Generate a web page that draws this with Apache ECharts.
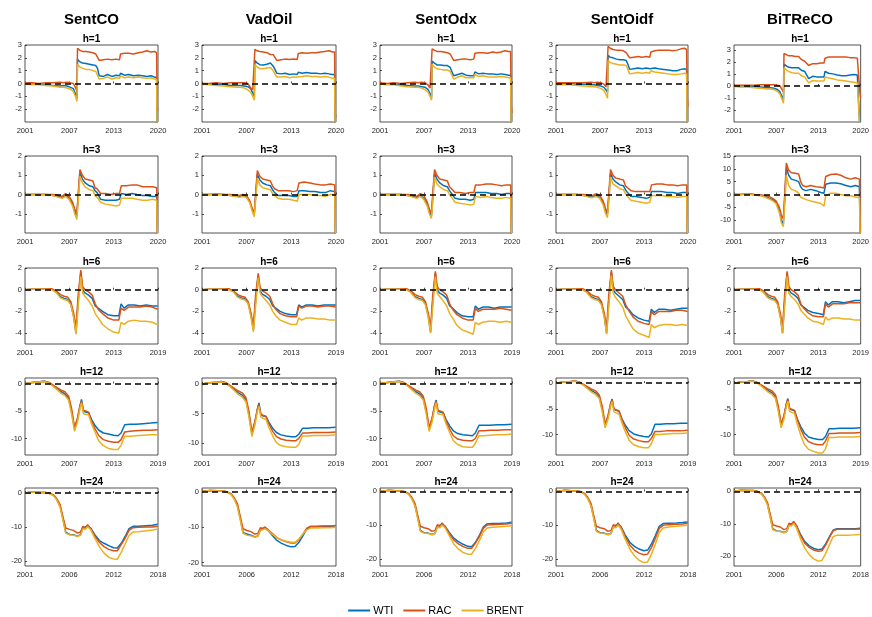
<!DOCTYPE html>
<html>
<head>
<meta charset="utf-8">
<script src="https://cdn.jsdelivr.net/npm/echarts@6/dist/echarts.min.js"></script>
<style>
html,body{margin:0;padding:0;background:#fff;}
#chart{width:872px;height:617px;}
</style>
</head>
<body>
<div id="chart"></div>
<script>
// ---- labels ----
const models = ['SentCO', 'VadOil', 'SentOdx', 'SentOidf', 'BiTReCO'];
const horizons = ['h=1', 'h=3', 'h=6', 'h=12', 'h=24'];
const seriesNames = ['WTI', 'RAC', 'BRENT'];

// ---- sample dates (decimal years) per horizon ----
const timeH1 = [2001,2002,2003,2004,2005,2006,2006.5,2007,2007.5,2007.9,2008.2,2008.42,2008.5,2008.8,2009.2,2009.7,2010.2,2010.7,2011.1,2011.35,2011.6,2012.2,2012.8,2013.4,2014,2014.5,2014.65,2015.2,2015.8,2016.5,2017.2,2017.8,2018.4,2019,2019.5,2019.8,2019.88,2019.98];
const timeH3 = [2001,2002,2003,2004,2005,2005.8,2006.3,2006.8,2007.3,2007.8,2008.1,2008.4,2008.65,2008.85,2009.2,2009.6,2010.2,2010.7,2011.0,2011.3,2011.8,2012.5,2013.3,2014.0,2014.5,2014.75,2015.5,2016.3,2017.0,2017.8,2018.5,2019.2,2019.82,2019.92];
const timeH6 = [2001,2002,2003,2004,2004.6,2005.2,2005.8,2006.3,2006.8,2007.2,2007.6,2007.9,2008.2,2008.55,2008.8,2009.1,2009.6,2010.1,2010.5,2010.9,2011.5,2012.2,2013.0,2013.7,2014.0,2014.4,2015.0,2015.8,2016.6,2017.4,2018.2,2018.95];
const timeH12 = [2001,2002,2003,2003.6,2004.2,2004.8,2005.4,2005.9,2006.4,2006.9,2007.3,2007.7,2008.1,2008.45,2008.65,2008.9,2009.2,2009.6,2010.0,2010.5,2011.0,2011.6,2012.3,2013.0,2013.6,2014.0,2014.5,2015.2,2016.0,2017.0,2018.0,2018.95];
const timeH24 = [2001,2002,2003,2003.6,2004.2,2004.7,2005.1,2005.5,2005.85,2006.2,2006.7,2007.2,2007.7,2008.1,2008.4,2008.7,2009.0,2009.4,2009.9,2010.5,2011.1,2011.7,2012.3,2012.8,2013.3,2013.8,2014.3,2014.8,2015.5,2016.5,2017.3,2017.95];

// ---- x axis ranges and tick labels per horizon ----
const xRangeH = [[2001, 2020], [2001, 2020], [2001, 2019], [2001, 2019], [2001, 2018]];
const xTickLabelsH = [
  ['2001', '2007', '2013', '2020'],
  ['2001', '2007', '2013', '2020'],
  ['2001', '2007', '2013', '2019'],
  ['2001', '2007', '2013', '2019'],
  ['2001', '2006', '2012', '2018']
];

// ---- y axis ranges (row = horizon, col = model) and tick labels ----
const yRangeH1 = [[-3, 3], [-3, 3], [-3, 3], [-3, 3], [-3, 3.4]];
const yRangeH3 = [[-2, 2], [-2, 2], [-2, 2], [-2, 2], [-15, 15]];
const yRangeH6 = [[-5, 2], [-5, 2], [-5, 2], [-5, 2], [-5, 2]];
const yRangeH12 = [[-13, 1], [-12, 1], [-13, 1], [-14, 1], [-14, 1]];
const yRangeH24 = [[-21.5, 1.5], [-21, 1], [-22, 1], [-22, 1], [-23, 1]];
const yTicksH1 = [-2, -1, 0, 1, 2, 3];
const yTicksH3 = [-1, 0, 1, 2];
const yTicksH3wide = [-10, -5, 0, 5, 10, 15];
const yTicksH6 = [-4, -2, 0, 2];
const yTicksH12 = [-10, -5, 0];
const yTicksH24 = [-20, -10, 0];

// ---- impulse responses, h=1 ----
const h1_SentCO_WTI = [0,-0.05,-0.05,-0.1,-0.15,-0.2,-0.15,-0.2,-0.3,-0.4,-0.8,-1.2,1.9,1.7,1.6,1.55,1.5,1.45,1.4,1.2,0.6,0.55,0.7,0.55,0.65,0.6,0.8,0.65,0.7,0.6,0.65,0.6,0.55,0.6,0.5,0.45,-3.5,-3.5];
const h1_SentCO_RAC = [0.05,0.05,0,0.05,0.05,0.1,0.05,0.1,0.05,0,-0.3,-0.6,2.75,2.6,2.5,2.5,2.45,2.4,2.3,2.2,1.8,1.85,1.9,1.85,1.9,1.85,2.3,2.35,2.35,2.3,2.4,2.45,2.55,2.45,2.5,2.4,-1.8,-2.1];
const h1_SentCO_BRENT = [-0.05,-0.1,-0.1,-0.15,-0.2,-0.3,-0.3,-0.35,-0.45,-0.6,-1.0,-1.4,1.5,1.3,1.2,1.1,1.1,1.0,0.95,0.85,0.35,0.4,0.5,0.35,0.45,0.4,0.6,0.45,0.5,0.45,0.5,0.45,0.4,0.45,0.35,0.3,-3.5,-3.5];
const h1_VadOil_WTI = [0,-0.05,-0.05,-0.05,-0.15,-0.15,-0.15,-0.2,-0.25,-0.4,-0.75,-1.15,1.8,1.6,1.47,1.45,1.5,1.6,1.35,1.1,0.8,0.75,0.8,0.7,0.75,0.7,0.87,0.8,0.85,0.8,0.8,0.75,0.8,0.75,0.7,0.7,-3.5,-3.5];
const h1_VadOil_RAC = [0,0,0.05,0,0.05,0.05,0.05,0.05,0,-0.35,-0.45,-0.5,2.66,2.55,2.5,2.45,2.4,2.26,2.25,2.1,1.8,1.85,1.9,1.87,1.9,1.87,2.34,2.4,2.35,2.4,2.4,2.45,2.5,2.55,2.45,2.45,-2.3,-2.6];
const h1_VadOil_BRENT = [-0.05,-0.1,-0.15,-0.2,-0.25,-0.3,-0.3,-0.35,-0.5,-0.7,-1.0,-1.3,1.47,1.3,1.15,1.15,1.2,1.25,1.0,0.85,0.5,0.5,0.55,0.45,0.5,0.5,0.65,0.55,0.6,0.55,0.55,0.5,0.55,0.5,0.4,0.4,-3.5,-3.5];
const h1_SentOdx_WTI = [0,-0.05,-0.05,-0.1,-0.15,-0.2,-0.2,-0.25,-0.3,-0.45,-0.8,-1.1,1.75,1.6,1.45,1.45,1.4,1.4,1.25,1.1,0.6,0.7,0.8,0.65,0.6,0.6,0.9,0.75,0.8,0.75,0.75,0.7,0.75,0.7,0.65,0.65,-3.5,-3.5];
const h1_SentOdx_RAC = [0.05,0,0.05,0,0.05,0.1,0.05,0.1,0.05,-0.1,-0.35,-0.5,2.7,2.6,2.5,2.5,2.45,2.4,2.3,2.2,1.8,1.85,1.9,1.9,1.85,1.9,2.35,2.4,2.4,2.35,2.45,2.4,2.45,2.55,2.5,2.5,-1.6,-2.3];
const h1_SentOdx_BRENT = [-0.05,-0.1,-0.1,-0.2,-0.25,-0.3,-0.3,-0.35,-0.5,-0.65,-1.0,-1.3,1.5,1.3,1.15,1.1,1.05,1.05,0.95,0.85,0.35,0.5,0.6,0.45,0.45,0.45,0.7,0.55,0.6,0.5,0.5,0.5,0.55,0.5,0.45,0.45,-3.5,-3.5];
const h1_SentOidf_WTI = [0,0,0,-0.05,-0.05,-0.1,-0.1,-0.15,-0.2,-0.3,-0.5,-0.7,2.2,2.05,2.0,1.9,1.85,1.85,1.8,1.5,1.1,1.15,1.2,1.15,1.2,1.15,1.3,1.2,1.15,1.1,1.05,1.0,1.0,1.1,1.15,1.1,-3.5,-3.5];
const h1_SentOidf_RAC = [0.05,0.05,0.05,0.05,0.05,0.1,0.05,0.1,0.05,-0.05,-0.25,-0.35,2.9,2.75,2.65,2.6,2.6,2.55,2.4,2.2,2.0,2.05,2.1,2.05,2.1,2.05,2.45,2.55,2.6,2.6,2.6,2.55,2.6,2.7,2.75,2.65,-1.0,-1.8];
const h1_SentOidf_BRENT = [-0.1,-0.1,-0.1,-0.15,-0.2,-0.25,-0.25,-0.3,-0.4,-0.55,-0.85,-1.15,1.8,1.65,1.55,1.5,1.45,1.45,1.4,1.1,0.75,0.8,0.85,0.8,0.85,0.8,1.0,0.9,0.85,0.8,0.75,0.7,0.7,0.75,0.8,0.75,-3.5,-3.5];
const h1_BiTReCO_WTI = [0,-0.05,-0.05,-0.05,-0.1,-0.15,-0.15,-0.2,-0.3,-0.5,-0.9,-1.2,1.8,1.65,1.55,1.5,1.5,1.5,1.3,1.25,1.2,0.6,0.8,0.75,0.75,0.75,1.2,1.05,1.0,0.9,0.85,0.85,0.9,0.95,0.9,0.85,-3.5,-3.5];
const h1_BiTReCO_RAC = [0.05,0.05,0.05,0.05,0.1,0.1,0.1,0.1,0.05,0,-0.3,-0.5,2.7,2.6,2.5,2.5,2.45,2.45,2.2,2.1,2.05,1.7,1.85,1.85,1.9,1.9,2.3,2.4,2.4,2.4,2.4,2.4,2.35,2.35,2.3,2.3,-0.5,-1.0];
const h1_BiTReCO_BRENT = [-0.05,-0.1,-0.1,-0.15,-0.2,-0.25,-0.25,-0.3,-0.45,-0.7,-1.1,-1.45,1.5,1.35,1.2,1.1,1.05,1.05,0.85,0.8,0.75,0.25,0.45,0.4,0.4,0.4,0.75,0.65,0.6,0.5,0.45,0.4,0.35,0.3,0.25,0.2,-3.5,-3.5];

// ---- impulse responses, h=3 ----
const h3_SentCO_WTI = [0,0,0,0,-0.05,-0.1,-0.15,-0.05,-0.2,-0.5,-0.85,-1.1,0.1,1.15,0.8,0.6,0.45,0.4,0.2,0.1,-0.25,-0.3,-0.3,-0.3,-0.25,0.05,0.0,0.05,0.0,-0.05,-0.05,-0.1,-0.1,-2.5];
const h3_SentCO_RAC = [0,0,0,0,0,-0.05,-0.1,0.05,-0.1,-0.4,-0.75,-1.0,0.3,1.3,1.0,0.8,0.75,0.7,0.35,0.3,0.05,0.05,0.0,0.05,0.05,0.45,0.45,0.5,0.5,0.4,0.4,0.4,0.35,-2.5];
const h3_SentCO_BRENT = [0,0.02,0,0,-0.05,-0.15,-0.2,-0.1,-0.25,-0.6,-1.0,-1.3,-0.1,0.95,0.6,0.4,0.25,0.2,-0.05,-0.15,-0.4,-0.5,-0.55,-0.6,-0.55,-0.2,-0.2,-0.2,-0.25,-0.3,-0.3,-0.25,-0.3,-2.5];
const h3_VadOil_WTI = [0,0,0,0,-0.05,-0.05,-0.1,-0.05,-0.1,-0.4,-0.75,-1.05,0.1,1.05,0.75,0.6,0.5,0.45,0.25,0.1,-0.05,-0.05,-0.05,-0.1,-0.1,0.2,0.2,0.15,0.15,0.1,0.1,0.2,0.15,-2.5];
const h3_VadOil_RAC = [0,0,0.02,0,0,-0.02,-0.05,0,-0.05,-0.35,-0.7,-1.0,0.3,1.25,0.95,0.8,0.75,0.7,0.45,0.3,0.2,0.2,0.2,0.15,0.2,0.6,0.65,0.6,0.55,0.5,0.5,0.55,0.5,-2.5];
const h3_VadOil_BRENT = [0,0,0,0,-0.05,-0.1,-0.15,-0.1,-0.15,-0.45,-0.85,-1.15,-0.1,0.85,0.5,0.35,0.3,0.25,0.05,-0.05,-0.2,-0.25,-0.25,-0.3,-0.35,0.0,0.0,0.0,-0.05,-0.05,-0.1,0.0,0.0,-2.5];
const h3_SentOdx_WTI = [0,0,0,0,-0.05,-0.1,-0.15,-0.05,-0.2,-0.5,-0.85,-1.1,0.1,1.1,0.8,0.6,0.45,0.4,0.2,0.05,-0.2,-0.25,-0.25,-0.3,-0.25,0.1,0.1,0.1,0.05,0.05,0.0,0.05,0.05,-2.5];
const h3_SentOdx_RAC = [0,0,0,0,0,-0.05,-0.1,0.05,-0.05,-0.4,-0.75,-1.0,0.3,1.3,1.0,0.8,0.75,0.7,0.4,0.3,0.1,0.1,0.05,0.1,0.1,0.5,0.5,0.55,0.55,0.5,0.45,0.5,0.5,-2.5];
const h3_SentOdx_BRENT = [0,0.02,0,0,-0.05,-0.15,-0.2,-0.1,-0.25,-0.6,-1.0,-1.25,-0.1,0.9,0.55,0.4,0.25,0.2,0.0,-0.15,-0.4,-0.45,-0.5,-0.55,-0.5,-0.1,-0.15,-0.1,-0.15,-0.2,-0.2,-0.15,-0.2,-2.5];
const h3_SentOidf_WTI = [0,0,0,0,-0.05,-0.1,-0.1,-0.05,-0.15,-0.45,-0.8,-1.05,0.1,1.1,0.8,0.65,0.5,0.45,0.25,0.1,-0.1,-0.1,-0.15,-0.2,-0.15,0.15,0.15,0.15,0.1,0.1,0.05,0.1,0.1,-2.5];
const h3_SentOidf_RAC = [0,0,0,0,0,-0.05,-0.05,0.05,-0.05,-0.35,-0.7,-0.95,0.3,1.3,1.0,0.85,0.8,0.75,0.45,0.35,0.2,0.15,0.15,0.15,0.15,0.5,0.55,0.55,0.5,0.5,0.45,0.5,0.5,-2.5];
const h3_SentOidf_BRENT = [0,0,0,0,-0.05,-0.15,-0.15,-0.1,-0.2,-0.55,-0.95,-1.2,-0.1,0.9,0.55,0.45,0.3,0.25,0.05,-0.1,-0.3,-0.35,-0.4,-0.45,-0.4,-0.05,-0.05,-0.05,-0.1,-0.1,-0.15,-0.1,-0.1,-2.5];
const h3_BiTReCO_WTI = [0,0,0.2,0,-0.3,-0.8,-1.5,-2.0,-3.0,-6.0,-10.0,-11.5,0,10.5,7.5,6.0,5.5,5.0,3.0,2.0,1.5,2.0,1.5,0.8,0.5,4.0,4.5,4.5,4.2,3.5,3.0,3.5,3.0,-16];
const h3_BiTReCO_RAC = [0,0,0.3,0,-0.2,-0.5,-0.8,-1.5,-2.5,-5.0,-8.0,-9.5,2.0,12.3,9.5,8.5,8.3,8.0,5.0,3.5,3.0,3.5,3.0,2.8,2.5,7.0,7.8,8.0,7.5,6.5,6.0,6.5,6.0,-16];
const h3_BiTReCO_BRENT = [0,0,0.2,-0.2,-0.5,-1.2,-1.8,-2.5,-3.5,-7.0,-11.0,-12.5,-2.0,7.5,3.5,2.0,1.5,0.5,-1.0,-1.5,-2.0,-2.5,-3.0,-3.5,-4.5,-0.5,0.5,0.5,0.0,-0.5,-0.5,-1.0,-1.2,-16];

// ---- impulse responses, h=6 ----
const h6_SentCO_WTI = [0,0.05,0.05,0.1,0.05,-0.2,-0.65,-0.8,-0.9,-1.3,-2.5,-4.0,-1.0,1.6,0.0,-0.3,-0.5,-0.8,-1.5,-1.7,-2.0,-2.3,-2.4,-2.4,-1.3,-1.7,-1.4,-1.4,-1.5,-1.4,-1.5,-1.5];
const h6_SentCO_RAC = [0,0.05,0.05,0.1,0.1,-0.1,-0.45,-0.6,-0.7,-1.1,-2.2,-3.5,-0.5,1.8,0.3,0.0,-0.2,-0.5,-1.3,-1.8,-2.2,-2.6,-2.8,-2.8,-1.7,-1.9,-1.6,-1.6,-1.6,-1.5,-1.6,-1.8];
const h6_SentCO_BRENT = [0,0.05,0.05,0.05,0.0,-0.25,-0.75,-0.9,-1.0,-1.4,-2.6,-4.1,-1.5,1.2,-0.3,-0.6,-1.0,-1.5,-2.2,-2.6,-3.2,-3.6,-3.9,-4.0,-3.0,-3.2,-2.9,-2.8,-2.9,-2.9,-3.0,-3.2];
const h6_VadOil_WTI = [0,0.05,0.05,0.1,0.05,-0.15,-0.6,-0.75,-0.85,-1.2,-2.4,-3.7,-1.0,1.3,-0.1,-0.4,-0.6,-0.9,-1.5,-1.7,-2.0,-2.2,-2.3,-2.3,-1.4,-1.6,-1.4,-1.4,-1.5,-1.4,-1.4,-1.4];
const h6_VadOil_RAC = [0,0.05,0.05,0.1,0.1,-0.1,-0.45,-0.6,-0.7,-1.1,-2.2,-3.5,-0.5,1.5,0.2,-0.1,-0.3,-0.6,-1.3,-1.8,-2.2,-2.4,-2.5,-2.5,-1.5,-1.7,-1.5,-1.5,-1.6,-1.5,-1.5,-1.6];
const h6_VadOil_BRENT = [0,0.05,0.05,0.05,0.0,-0.2,-0.7,-0.85,-0.95,-1.3,-2.6,-3.9,-1.5,1.1,-0.3,-0.6,-1.0,-1.4,-2.0,-2.4,-2.8,-3.0,-3.2,-3.2,-2.6,-2.8,-2.6,-2.6,-2.7,-2.7,-2.8,-2.8];
const h6_SentOdx_WTI = [0,0.05,0.05,0.1,0.05,-0.2,-0.65,-0.8,-0.9,-1.3,-2.5,-3.9,-1.0,1.5,0.0,-0.3,-0.5,-0.8,-1.5,-1.7,-2.1,-2.4,-2.5,-2.5,-1.5,-1.8,-1.6,-1.6,-1.7,-1.6,-1.6,-1.6];
const h6_SentOdx_RAC = [0,0.05,0.05,0.1,0.1,-0.1,-0.45,-0.6,-0.7,-1.1,-2.2,-3.5,-0.5,1.7,0.3,0.0,-0.2,-0.5,-1.3,-1.8,-2.3,-2.6,-2.8,-2.8,-1.7,-2.0,-1.8,-1.8,-1.8,-1.7,-1.8,-1.9];
const h6_SentOdx_BRENT = [0,0.05,0.05,0.05,0.0,-0.25,-0.75,-0.9,-1.0,-1.4,-2.6,-4.0,-1.5,1.2,-0.3,-0.6,-1.0,-1.5,-2.2,-2.6,-3.3,-3.7,-3.9,-4.1,-3.0,-3.2,-3.0,-2.9,-2.9,-3.0,-2.9,-3.0];
const h6_SentOidf_WTI = [0,0.05,0.05,0.1,0.05,-0.2,-0.65,-0.8,-0.9,-1.3,-2.5,-4.0,-1.0,1.6,0.0,-0.3,-0.6,-0.9,-1.6,-1.8,-2.3,-2.6,-2.8,-2.9,-1.8,-2.1,-1.8,-1.8,-1.9,-1.8,-1.7,-1.7];
const h6_SentOidf_RAC = [0,0.05,0.05,0.1,0.1,-0.1,-0.45,-0.6,-0.7,-1.1,-2.2,-3.6,-0.5,1.8,0.3,0.0,-0.3,-0.6,-1.4,-1.9,-2.5,-2.9,-3.1,-3.2,-2.0,-2.3,-2.0,-2.0,-2.0,-1.9,-1.9,-2.0];
const h6_SentOidf_BRENT = [0,0.05,0.05,0.05,0.0,-0.25,-0.75,-0.9,-1.0,-1.4,-2.6,-4.1,-1.5,1.3,-0.3,-0.7,-1.1,-1.6,-2.4,-2.9,-3.6,-4.0,-4.2,-4.4,-3.2,-3.5,-3.3,-3.2,-3.2,-3.3,-3.2,-3.3];
const h6_BiTReCO_WTI = [0,0.05,0.05,0.1,0.05,-0.2,-0.65,-0.8,-0.9,-1.3,-2.5,-4.0,-1.0,1.5,0.0,-0.3,-0.5,-0.8,-1.4,-1.6,-1.9,-2.1,-2.2,-2.3,-1.1,-1.4,-1.1,-1.1,-1.2,-1.1,-1.0,-1.0];
const h6_BiTReCO_RAC = [0,0.05,0.05,0.1,0.1,-0.1,-0.45,-0.6,-0.7,-1.1,-2.2,-3.5,-0.5,1.7,0.3,0.0,-0.2,-0.5,-1.3,-1.7,-2.1,-2.4,-2.5,-2.5,-1.3,-1.6,-1.3,-1.3,-1.3,-1.2,-1.2,-1.2];
const h6_BiTReCO_BRENT = [0,0.05,0.05,0.05,0.0,-0.25,-0.75,-0.9,-1.0,-1.4,-2.6,-4.0,-1.5,1.2,-0.3,-0.6,-0.9,-1.3,-1.9,-2.2,-2.6,-2.9,-3.0,-3.2,-2.5,-2.8,-2.6,-2.6,-2.7,-2.7,-2.8,-2.8];

// ---- impulse responses, h=12 ----
const h12_SentCO_WTI = [0,0.2,0.3,0.4,0.2,-0.4,-1.0,-1.5,-1.9,-2.7,-5.0,-8.2,-6.5,-4.0,-2.9,-5.0,-5.2,-5.3,-6.5,-7.7,-8.5,-9.0,-9.2,-9.4,-9.5,-9.0,-7.5,-7.4,-7.4,-7.3,-7.2,-7.1];
const h12_SentCO_RAC = [0,0.2,0.3,0.4,0.2,-0.3,-0.8,-1.2,-1.5,-2.3,-4.5,-8.0,-6.3,-4.0,-3.2,-4.9,-5.0,-5.2,-6.8,-8.3,-9.5,-10.2,-10.5,-10.7,-10.7,-10.2,-8.8,-8.7,-8.6,-8.5,-8.5,-8.4];
const h12_SentCO_BRENT = [0,0.2,0.3,0.35,0.1,-0.5,-1.2,-1.8,-2.2,-3.0,-5.5,-8.7,-7.0,-4.5,-3.5,-5.5,-5.6,-5.7,-7.3,-8.9,-10.5,-11.3,-11.8,-12.0,-12.0,-11.2,-9.6,-9.6,-9.5,-9.4,-9.3,-9.3];
const h12_VadOil_WTI = [0,0.2,0.3,0.4,0.2,-0.4,-1.0,-1.5,-1.9,-2.7,-5.0,-8.4,-6.5,-4.2,-3.2,-5.2,-5.4,-5.5,-6.5,-7.5,-8.2,-8.6,-8.8,-8.9,-8.9,-8.5,-7.5,-7.5,-7.4,-7.4,-7.4,-7.3];
const h12_VadOil_RAC = [0,0.2,0.3,0.4,0.2,-0.3,-0.8,-1.2,-1.5,-2.3,-4.6,-8.2,-6.4,-4.2,-3.5,-5.1,-5.3,-5.5,-6.8,-8.0,-8.9,-9.3,-9.5,-9.6,-9.6,-9.2,-8.3,-8.3,-8.2,-8.2,-8.2,-8.1];
const h12_VadOil_BRENT = [0,0.2,0.3,0.35,0.1,-0.5,-1.2,-1.8,-2.2,-3.0,-5.5,-8.9,-7.0,-4.6,-3.8,-5.6,-5.8,-6.0,-7.4,-8.8,-9.9,-10.4,-10.6,-10.7,-10.7,-10.2,-8.8,-8.8,-8.7,-8.7,-8.7,-8.6];
const h12_SentOdx_WTI = [0,0.2,0.3,0.4,0.2,-0.4,-1.0,-1.5,-1.9,-2.7,-5.0,-8.3,-6.5,-4.0,-3.0,-5.0,-5.2,-5.3,-6.5,-7.7,-8.6,-9.1,-9.3,-9.4,-9.5,-9.0,-7.6,-7.6,-7.6,-7.5,-7.5,-7.4];
const h12_SentOdx_RAC = [0,0.2,0.3,0.4,0.2,-0.3,-0.8,-1.2,-1.5,-2.3,-4.5,-8.0,-6.3,-4.0,-3.2,-4.9,-5.0,-5.2,-6.8,-8.3,-9.5,-10.1,-10.3,-10.4,-10.4,-10.0,-8.6,-8.6,-8.5,-8.5,-8.4,-8.4];
const h12_SentOdx_BRENT = [0,0.2,0.3,0.35,0.1,-0.5,-1.2,-1.8,-2.2,-3.0,-5.5,-8.7,-7.0,-4.5,-3.5,-5.5,-5.6,-5.7,-7.3,-8.9,-10.4,-11.1,-11.5,-11.6,-11.6,-10.9,-9.5,-9.5,-9.4,-9.3,-9.3,-9.2];
const h12_SentOidf_WTI = [0,0.2,0.3,0.4,0.2,-0.4,-1.0,-1.5,-1.9,-2.7,-5.0,-8.3,-6.5,-4.0,-3.1,-5.1,-5.3,-5.5,-7.0,-8.3,-9.3,-9.9,-10.2,-10.4,-10.5,-9.9,-8.0,-8.0,-7.9,-7.9,-7.8,-7.8];
const h12_SentOidf_RAC = [0,0.2,0.3,0.4,0.2,-0.3,-0.8,-1.2,-1.5,-2.3,-4.5,-8.0,-6.3,-4.0,-3.3,-5.0,-5.2,-5.4,-7.2,-8.8,-10.2,-10.9,-11.2,-11.4,-11.4,-10.8,-9.4,-9.4,-9.3,-9.3,-9.3,-9.2];
const h12_SentOidf_BRENT = [0,0.2,0.3,0.35,0.1,-0.5,-1.2,-1.8,-2.2,-3.0,-5.5,-8.7,-7.0,-4.5,-3.6,-5.6,-5.8,-6.0,-7.8,-9.6,-11.2,-12.0,-12.4,-12.6,-12.6,-11.8,-10.0,-10.0,-9.9,-9.8,-9.8,-9.7];
const h12_BiTReCO_WTI = [0,0.2,0.3,0.4,0.2,-0.4,-1.0,-1.5,-1.9,-2.7,-5.0,-8.3,-6.5,-4.0,-3.0,-5.0,-5.2,-5.4,-7.0,-8.5,-9.7,-10.5,-10.8,-11.0,-11.0,-10.4,-8.9,-8.9,-8.8,-8.8,-8.8,-8.7];
const h12_BiTReCO_RAC = [0,0.2,0.3,0.4,0.2,-0.3,-0.8,-1.2,-1.5,-2.3,-4.5,-8.0,-6.3,-4.0,-3.2,-4.9,-5.1,-5.3,-7.2,-9.0,-10.5,-11.4,-11.8,-12.0,-12.0,-11.3,-9.8,-9.8,-9.7,-9.7,-9.7,-9.6];
const h12_BiTReCO_BRENT = [0,0.2,0.3,0.35,0.1,-0.5,-1.2,-1.8,-2.2,-3.0,-5.5,-8.7,-7.0,-4.5,-3.5,-5.5,-5.7,-5.9,-8.0,-10.2,-11.9,-12.9,-13.3,-13.6,-13.6,-12.8,-10.6,-10.6,-10.5,-10.5,-10.5,-10.4];

// ---- impulse responses, h=24 ----
const h24_SentCO_WTI = [0,0.3,0.2,0.2,-0.1,-0.8,-2.0,-4.0,-7.5,-11.5,-12.2,-12.3,-12.7,-12.3,-10.2,-10.0,-9.7,-10.3,-12.2,-14.0,-14.8,-15.5,-16.1,-16.2,-14.8,-12.8,-10.5,-9.8,-9.8,-9.6,-9.5,-9.2];
const h24_SentCO_RAC = [0,0.3,0.2,0.2,-0.1,-0.6,-1.8,-3.5,-7.0,-10.3,-10.7,-11.0,-11.8,-11.5,-9.8,-10.5,-9.3,-10.5,-12.6,-14.5,-15.8,-16.6,-17.0,-17.0,-15.2,-13.3,-11.0,-10.2,-10.1,-10.0,-10.0,-9.8];
const h24_SentCO_BRENT = [0,0.3,0.2,0.15,-0.2,-0.9,-2.2,-4.3,-8.0,-11.8,-12.3,-12.4,-12.8,-12.4,-10.5,-10.7,-9.9,-10.8,-13.2,-15.8,-17.7,-18.9,-19.4,-19.5,-17.5,-15.0,-12.5,-11.5,-11.4,-11.1,-10.9,-10.6];
const h24_VadOil_WTI = [0,0.3,0.2,0.2,-0.1,-0.8,-2.0,-4.0,-7.5,-11.5,-12.0,-12.3,-12.8,-12.5,-10.8,-10.5,-10.3,-11.0,-12.3,-13.8,-14.6,-15.2,-15.6,-15.5,-14.3,-12.5,-10.5,-9.9,-9.9,-9.8,-9.8,-9.7];
const h24_VadOil_RAC = [0,0.3,0.2,0.2,-0.1,-0.6,-1.8,-3.5,-7.0,-10.5,-11.0,-11.3,-12.0,-11.8,-10.2,-10.4,-10.0,-10.8,-11.8,-13.0,-13.7,-14.2,-14.5,-14.5,-13.5,-12.0,-10.3,-9.8,-9.8,-9.7,-9.7,-9.6];
const h24_VadOil_BRENT = [0,0.3,0.2,0.15,-0.2,-0.9,-2.2,-4.3,-8.0,-11.8,-12.3,-12.5,-12.9,-12.6,-10.9,-10.8,-10.5,-11.0,-12.0,-13.0,-13.6,-14.0,-14.3,-14.3,-13.4,-12.0,-10.8,-10.3,-10.3,-10.2,-10.2,-10.1];
const h24_SentOdx_WTI = [0,0.3,0.2,0.2,-0.1,-0.8,-2.0,-4.0,-7.5,-11.5,-12.2,-12.3,-12.7,-12.3,-10.2,-10.0,-9.7,-10.3,-12.0,-13.8,-14.8,-15.6,-16.2,-16.3,-15.0,-13.0,-10.5,-9.6,-9.5,-9.4,-9.3,-9.1];
const h24_SentOdx_RAC = [0,0.3,0.2,0.2,-0.1,-0.6,-1.8,-3.5,-7.0,-10.3,-10.7,-11.0,-11.8,-11.5,-9.8,-10.5,-9.3,-10.5,-12.4,-14.3,-15.5,-16.3,-16.8,-16.8,-15.2,-13.3,-10.9,-9.9,-9.8,-9.7,-9.6,-9.4];
const h24_SentOdx_BRENT = [0,0.3,0.2,0.15,-0.2,-0.9,-2.2,-4.3,-8.0,-11.8,-12.3,-12.4,-12.8,-12.4,-10.5,-10.7,-9.9,-10.8,-13.0,-15.5,-17.0,-18.0,-18.5,-18.5,-16.8,-14.5,-12.0,-10.8,-10.6,-10.4,-10.3,-10.1];
const h24_SentOidf_WTI = [0,0.3,0.2,0.2,-0.1,-0.8,-2.0,-4.0,-7.5,-11.5,-12.2,-12.3,-12.7,-12.3,-10.2,-10.0,-9.7,-10.5,-12.8,-15.0,-16.2,-17.0,-17.5,-17.3,-15.5,-13.0,-10.3,-9.5,-9.4,-9.3,-9.2,-9.0];
const h24_SentOidf_RAC = [0,0.3,0.2,0.2,-0.1,-0.6,-1.8,-3.5,-7.0,-10.3,-10.7,-11.0,-11.8,-11.5,-9.8,-10.5,-9.3,-10.7,-13.3,-15.8,-17.3,-18.2,-18.7,-18.5,-16.5,-13.8,-10.9,-10.0,-9.8,-9.7,-9.6,-9.4];
const h24_SentOidf_BRENT = [0,0.3,0.2,0.15,-0.2,-0.9,-2.2,-4.3,-8.0,-11.8,-12.3,-12.4,-12.8,-12.4,-10.5,-10.7,-9.9,-11.2,-14.0,-17.0,-19.0,-20.3,-21.0,-20.8,-18.5,-15.5,-12.2,-10.8,-10.5,-10.3,-10.1,-9.9];
const h24_BiTReCO_WTI = [0,0.3,0.2,0.2,-0.1,-0.8,-2.0,-4.0,-7.5,-11.5,-12.2,-12.3,-12.7,-12.3,-10.2,-10.0,-9.7,-10.6,-13.2,-15.5,-16.8,-17.6,-18.0,-17.8,-16.2,-14.0,-12.0,-11.5,-11.5,-11.5,-11.5,-11.4];
const h24_BiTReCO_RAC = [0,0.3,0.2,0.2,-0.1,-0.6,-1.8,-3.5,-7.0,-10.3,-10.7,-11.0,-11.8,-11.5,-9.8,-10.5,-9.3,-10.7,-13.5,-16.0,-17.3,-18.1,-18.5,-18.3,-16.6,-14.3,-12.2,-11.7,-11.7,-11.7,-11.7,-11.6];
const h24_BiTReCO_BRENT = [0,0.3,0.2,0.15,-0.2,-0.9,-2.2,-4.3,-8.0,-11.8,-12.3,-12.4,-12.8,-12.4,-10.5,-10.7,-9.9,-11.3,-14.5,-17.5,-19.5,-20.8,-21.5,-21.3,-19.2,-16.5,-14.0,-13.5,-13.5,-13.5,-13.4,-13.3];

// ---- assemble per-panel tables from the named arrays ----
const timeByRow = [timeH1, timeH3, timeH6, timeH12, timeH24];
const yRangeByRow = [yRangeH1, yRangeH3, yRangeH6, yRangeH12, yRangeH24];
const yTicksByRow = [
  [yTicksH1, yTicksH1, yTicksH1, yTicksH1, yTicksH1],
  [yTicksH3, yTicksH3, yTicksH3, yTicksH3, yTicksH3wide],
  [yTicksH6, yTicksH6, yTicksH6, yTicksH6, yTicksH6],
  [yTicksH12, yTicksH12, yTicksH12, yTicksH12, yTicksH12],
  [yTicksH24, yTicksH24, yTicksH24, yTicksH24, yTicksH24]
];
const panelData = [
  [[h1_SentCO_WTI, h1_SentCO_RAC, h1_SentCO_BRENT], [h1_VadOil_WTI, h1_VadOil_RAC, h1_VadOil_BRENT], [h1_SentOdx_WTI, h1_SentOdx_RAC, h1_SentOdx_BRENT], [h1_SentOidf_WTI, h1_SentOidf_RAC, h1_SentOidf_BRENT], [h1_BiTReCO_WTI, h1_BiTReCO_RAC, h1_BiTReCO_BRENT]],
  [[h3_SentCO_WTI, h3_SentCO_RAC, h3_SentCO_BRENT], [h3_VadOil_WTI, h3_VadOil_RAC, h3_VadOil_BRENT], [h3_SentOdx_WTI, h3_SentOdx_RAC, h3_SentOdx_BRENT], [h3_SentOidf_WTI, h3_SentOidf_RAC, h3_SentOidf_BRENT], [h3_BiTReCO_WTI, h3_BiTReCO_RAC, h3_BiTReCO_BRENT]],
  [[h6_SentCO_WTI, h6_SentCO_RAC, h6_SentCO_BRENT], [h6_VadOil_WTI, h6_VadOil_RAC, h6_VadOil_BRENT], [h6_SentOdx_WTI, h6_SentOdx_RAC, h6_SentOdx_BRENT], [h6_SentOidf_WTI, h6_SentOidf_RAC, h6_SentOidf_BRENT], [h6_BiTReCO_WTI, h6_BiTReCO_RAC, h6_BiTReCO_BRENT]],
  [[h12_SentCO_WTI, h12_SentCO_RAC, h12_SentCO_BRENT], [h12_VadOil_WTI, h12_VadOil_RAC, h12_VadOil_BRENT], [h12_SentOdx_WTI, h12_SentOdx_RAC, h12_SentOdx_BRENT], [h12_SentOidf_WTI, h12_SentOidf_RAC, h12_SentOidf_BRENT], [h12_BiTReCO_WTI, h12_BiTReCO_RAC, h12_BiTReCO_BRENT]],
  [[h24_SentCO_WTI, h24_SentCO_RAC, h24_SentCO_BRENT], [h24_VadOil_WTI, h24_VadOil_RAC, h24_VadOil_BRENT], [h24_SentOdx_WTI, h24_SentOdx_RAC, h24_SentOdx_BRENT], [h24_SentOidf_WTI, h24_SentOidf_RAC, h24_SentOidf_BRENT], [h24_BiTReCO_WTI, h24_BiTReCO_RAC, h24_BiTReCO_BRENT]]
];

// ---- layout & style ----
const lineColors = ['#0072BD', '#D95319', '#EDB120'];
const colLeft = [25, 202, 380, 556, 734];
const colWidth = [133, 134, 132, 132, 132];
const rowTop = [45, 156, 268, 378, 488];
const rowHeight = [77, 77, 76, 77, 78];
const axisInk = '#262626';
const fontFam = '"Liberation Sans", Arial, Helvetica, sans-serif';

const grids = [], xAxes = [], yAxes = [], series = [], texts = [];

models.forEach((m, c) => {
  texts.push({
    type: 'text', x: colLeft[c] + colWidth[c] / 2, y: 20,
    style: { text: m, font: 'bold 15px ' + fontFam, fill: '#000', align: 'center', verticalAlign: 'middle' }
  });
});

for (let r = 0; r < 5; r++) {
  const [xmin, xmax] = xRangeH[r];
  const xPos = xTickLabelsH[r].map((_, k) => xmin + k * (xmax - xmin) / 3);
  const xLab = xTickLabelsH[r];
  for (let c = 0; c < 5; c++) {
    const idx = r * 5 + c;
    grids.push({
      left: colLeft[c], top: rowTop[r], width: colWidth[c], height: rowHeight[r],
      show: true, borderColor: axisInk, borderWidth: 0.8, backgroundColor: 'transparent'
    });
    texts.push({
      type: 'text', x: colLeft[c] + colWidth[c] / 2, y: rowTop[r] - 6,
      style: { text: horizons[r], font: 'bold 10px ' + fontFam, fill: '#000', align: 'center', verticalAlign: 'middle' }
    });
    xAxes.push({
      gridIndex: idx, type: 'value', min: xmin, max: xmax,
      axisLine: { show: false }, splitLine: { show: false },
      axisTick: { show: true, inside: true, length: 2, customValues: xPos, lineStyle: { color: axisInk, width: 0.8 } },
      axisLabel: {
        customValues: xPos, showMinLabel: true, showMaxLabel: true,
        fontSize: 7.5, color: axisInk, fontFamily: fontFam, margin: 5,
        formatter: v => {
          let best = 0;
          xPos.forEach((p, k) => { if (Math.abs(p - v) < Math.abs(xPos[best] - v)) best = k; });
          return xLab[best];
        }
      }
    });
    const [ymin, ymax] = yRangeByRow[r][c];
    const yt = yTicksByRow[r][c];
    yAxes.push({
      gridIndex: idx, type: 'value', min: ymin, max: ymax,
      axisLine: { show: false }, splitLine: { show: false },
      axisTick: { show: true, inside: true, length: 2, customValues: yt, lineStyle: { color: axisInk, width: 0.8 } },
      axisLabel: { customValues: yt, fontSize: 7.5, color: axisInk, fontFamily: fontFam, margin: 3 }
    });
    const t = timeByRow[r];
    panelData[r][c].forEach((vals, s) => {
      const ser = {
        name: seriesNames[s], type: 'line', xAxisIndex: idx, yAxisIndex: idx,
        data: vals.map((v, i) => [t[i], v]),
        showSymbol: false, symbol: 'none', clip: true, silent: true,
        color: lineColors[s],
        lineStyle: { color: lineColors[s], width: 1.5 },
        z: 2 + s
      };
      if (s === 2) {
        // zero reference line, drawn over the responses
        ser.markLine = {
          silent: true, symbol: 'none', animation: false, z: 10,
          label: { show: false },
          lineStyle: { color: '#000', type: [6, 4], width: 1.5 },
          data: [{ yAxis: 0 }]
        };
      }
      series.push(ser);
    });
  }
}

const chart = echarts.init(document.getElementById('chart'), null, { renderer: 'canvas' });
chart.setOption({
  animation: false,
  backgroundColor: '#fff',
  grid: grids,
  xAxis: xAxes,
  yAxis: yAxes,
  series: series,
  graphic: texts,
  legend: {
    data: seriesNames,
    top: 600, left: 'center',
    icon: 'rect', itemWidth: 22, itemHeight: 2, itemGap: 10,
    textStyle: { fontSize: 11, color: '#000', fontFamily: fontFam, padding: [0, 0, 0, -2] },
    selectedMode: false
  }
});
</script>
</body>
</html>
